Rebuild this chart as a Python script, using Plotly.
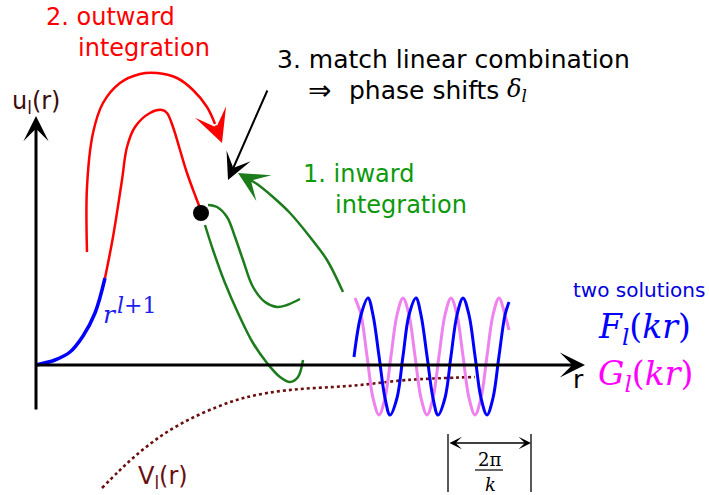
import plotly.graph_objects as go

# ---- schematic geometry (screen-like coordinates, y grows downward) ----
W, H = 709, 495

# near-origin power-law piece r^(l+1)
small_r_x = [36, 55, 70, 83, 95, 105]
small_r_y = [365, 360, 352, 336, 313, 278]

# outward-integrated solution up to the matching point
outward_x = [105, 113, 122, 127, 135, 150, 162, 167, 173, 180, 187, 195, 202]
outward_y = [278, 237, 180, 147, 127, 113, 110, 113, 127, 150, 173, 195, 213]

# inward-integrated trial solutions starting at the matching point
inward_a_x = [208, 217, 227, 235, 243, 253, 265, 277, 287, 300]
inward_a_y = [205, 207, 217, 237, 260, 287, 302, 307, 305, 299]
inward_b_x = [205, 213, 225, 238, 253, 267, 280, 290, 298, 303]
inward_b_y = [225, 250, 283, 313, 343, 363, 377, 382, 377, 360]

match_x, match_y = [201], [213]

# curved process arrows (bodies) and their heads (tail -> tip)
out_arrow_x = [87, 87, 93, 103, 120, 140, 157, 177, 193, 207, 215]
out_arrow_y = [252, 187, 133, 103, 83, 74, 73, 78, 90, 107, 124]
out_head = (215, 124, 222, 143)
in_arrow_x = [343, 327, 310, 290, 273, 257, 250]
in_arrow_y = [292, 260, 237, 213, 197, 184, 180]
in_head = (250, 180, 238, 173)
match_head = (268, 89, 228, 180)

# axes (tail -> tip)
u_axis = (36, 411, 36, 116)
r_axis = (35, 365, 585, 365)

# asymptotic free solutions F_l (blue) and G_l (violet)
F_x = [354, 361, 368, 373, 379, 385, 390, 397, 403, 409, 416, 421, 427, 433,
       438, 445, 451, 457, 463, 469, 475, 481, 487, 493, 499, 505, 509]
F_y = [357, 315, 298, 315, 356, 398, 415, 398, 356, 315, 298, 315, 356, 398,
       415, 398, 356, 315, 298, 315, 356, 398, 415, 398, 356, 315, 302]
G_x = [355, 361, 367, 373, 379, 385, 391, 397, 403, 409, 415, 421, 427, 433,
       439, 445, 451, 457, 463, 469, 475, 481, 487, 493, 499, 505, 509]
G_y = [298, 315, 356, 398, 415, 398, 356, 315, 298, 315, 356, 398, 415, 398,
       356, 315, 298, 315, 356, 398, 415, 398, 356, 315, 298, 315, 330]

# potential V_l(r)
V_x = [102, 118, 133, 150, 167, 190, 217, 240, 267, 300, 333, 360, 407, 475]
V_y = [488, 472, 458, 444, 432, 419, 407, 399, 393, 389, 387, 385, 380, 377]

# wavelength marker 2π/k
lam_left, lam_right = 448, 531
lam_top, lam_bottom, lam_y = 434, 492, 443
frac_x, frac_y = [475, 503], [470, 470]

RED = "#ff0000"
GREEN = "#1c7c1c"
GREEN_TXT = "#0c990c"
BLUE = "#0000ff"
VIOLET = "#ee82ee"
MAROON = "#6a0f0f"
SANS = "DejaVu Sans"
SERIF = "DejaVu Serif"

fig = go.Figure()


def curve(x, y, color, width, dash=None, shape="spline"):
    fig.add_trace(go.Scatter(
        x=x, y=y, mode="lines", hoverinfo="skip",
        line=dict(color=color, width=width, shape=shape, dash=dash),
    ))


curve(V_x, V_y, MAROON, 2.6, dash="3px,3px")
curve(G_x, G_y, VIOLET, 3)
curve(F_x, F_y, BLUE, 3)
curve(outward_x, outward_y, RED, 2.5)
curve(small_r_x, small_r_y, BLUE, 3.5)
curve(inward_a_x, inward_a_y, GREEN, 2.5)
curve(inward_b_x, inward_b_y, GREEN, 2.5)
curve(out_arrow_x, out_arrow_y, RED, 2.5)
curve(in_arrow_x, in_arrow_y, GREEN, 2.5)
curve([lam_left, lam_left], [lam_top, lam_bottom], "black", 1.3, shape="linear")
curve([lam_right, lam_right], [lam_top, lam_bottom], "black", 1.3, shape="linear")
curve(frac_x, frac_y, "black", 1.2, shape="linear")

fig.add_trace(go.Scatter(
    x=match_x, y=match_y, mode="markers", hoverinfo="skip",
    marker=dict(color="black", size=16),
))

ann = []


def arrow(seg, color, width, size, side="end"):
    x0, y0, x1, y1 = seg
    ann.append(dict(
        x=x1, y=y1, ax=x0, ay=y0, xref="x", yref="y", axref="x", ayref="y",
        text="", showarrow=True, arrowhead=3, startarrowhead=3,
        arrowsize=size, startarrowsize=size, arrowwidth=width,
        arrowcolor=color, arrowside=side, standoff=0, startstandoff=0,
    ))


arrow(u_axis, "black", 3, 1.4)
arrow(r_axis, "black", 3, 1.4)
arrow(out_head, RED, 2.5, 2.2)
arrow(in_head, GREEN, 2.5, 2.0)
arrow(match_head, "black", 2, 2.2)
arrow((lam_left, lam_y, lam_right, lam_y), "black", 1.3, 1.6, side="end+start")


def label(x, y, text, color, size, family=SANS, anchor="left"):
    ann.append(dict(
        x=x, y=y, xref="x", yref="y", text=text, showarrow=False,
        xanchor=anchor, yanchor="middle",
        font=dict(color=color, size=size, family=family),
    ))


label(44, 17, "2. outward", RED, 24)
label(76, 48, "integration", RED, 24)
label(275, 59, "3. match linear combination", "black", 25)
label(306, 90, "⇒", "black", 28)
label(347, 90, "phase shifts", "black", 25)
label(505, 90, "<i>δ</i><sub><i>l</i></sub>", "black", 24, family=SERIF)
label(301, 174, "1. inward", GREEN_TXT, 24)
label(333, 205, "integration", GREEN_TXT, 24)
label(571, 290, "two solutions", "#0000dd", 20)
label(10, 102, "u<sub>l</sub>(r)", "#3a0d0d", 24)
label(136, 477, "V<sub>l</sub>(r)", MAROON, 24)
label(571, 379, "r", "black", 25)
label(101, 314, "<i>r</i>", "#2020ee", 25, family=SERIF)
label(115, 305, "<i>l</i>+1", "#2020ee", 22, family=SERIF)
label(596, 328, "<i>F</i><sub><i>l</i></sub>(<i>kr</i>)", BLUE, 33, family=SERIF)
label(596, 375, "<i>G</i><sub><i>l</i></sub>(<i>kr</i>)", "#ff00ff", 33, family=SERIF)
label(489, 459, "2π", "black", 18, family=SERIF, anchor="center")
label(490, 484, "<i>k</i>", "black", 18, family=SERIF, anchor="center")

fig.update_layout(
    width=W, height=H, margin=dict(l=0, r=0, t=0, b=0),
    paper_bgcolor="white", plot_bgcolor="white", showlegend=False,
    annotations=ann,
    xaxis=dict(range=[0, W], visible=False, fixedrange=True),
    yaxis=dict(range=[H, 0], visible=False, fixedrange=True),
)

fig.write_html("out.html")
